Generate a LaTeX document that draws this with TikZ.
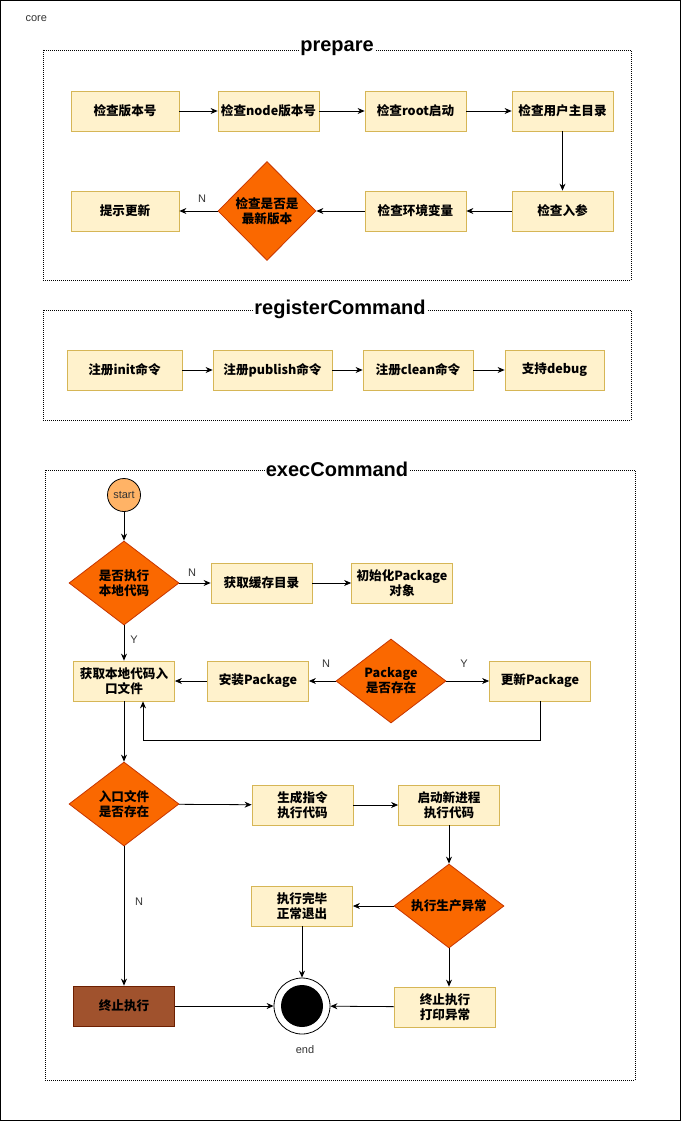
\documentclass[tikz,border=0pt]{standalone}
\usepackage{fontspec}
\setmainfont{Liberation Sans}
\newfontfamily\cjk{Noto Sans CJK SC}
\definecolor{boxfill}{HTML}{FFF2CC}
\definecolor{boxline}{HTML}{D6B656}
\definecolor{decfill}{HTML}{FA6800}
\definecolor{decline}{HTML}{C73500}
\definecolor{startfill}{HTML}{FFB366}
\definecolor{stopfill}{HTML}{A0522D}
\definecolor{stopline}{HTML}{6D1F00}
\usetikzlibrary{shapes.geometric, arrows.meta, positioning}

\begin{document}
\begin{tikzpicture}[x=1pt, y=-1pt,
    procbox/.style={draw=boxline, fill=boxfill, line width=0.8pt, minimum width=101pt, minimum height=40pt, inner sep=0.5pt, align=center, font=\cjk\bfseries\fontsize{12.6}{15}\selectfont},
    decide/.style={diamond, draw=decline, fill=decfill, line width=0.8pt, aspect=1.3, inner sep=0pt, minimum width=110pt, minimum height=84pt, align=center, font=\cjk\bfseries\fontsize{12.6}{15}\selectfont},
    grp/.style={draw, dash pattern=on 1pt off 1pt, line width=0.6pt},
    grptitle/.style={fill=white, inner sep=1pt, font=\bfseries\fontsize{20}{22}\selectfont},
    flow/.style={-{Stealth[length=7pt, width=6pt]}, line width=0.8pt},
    lbl/.style={font=\fontsize{11}{13}\selectfont, text=black!80}]
    \useasboundingbox (0,0) rectangle (681,1121);
    \draw[line width=0.8pt] (0.5,0.5) rectangle (680.5,1120.5);
    \node[lbl, anchor=west] (corelbl) at (22,19) {core};

    \draw[grp] (43,50) rectangle (631,280);
    \node[grptitle] (preparetitle) at (337,48) {prepare};
    \node[procbox, minimum width=108pt] (chkver) at (125,111) {检查版本号};
    \node[procbox] (chknode) at (268.5,111) {检查node版本号};
    \node[procbox] (chkroot) at (415.5,111) {检查root启动};
    \node[procbox] (chkhome) at (562.5,111) {检查用户主目录};
    \node[procbox] (chkargs) at (562.5,211) {检查入参};
    \node[procbox] (chkenv) at (415.5,211) {检查环境变量};
    \node[decide, aspect=1, minimum width=98pt, minimum height=99pt] (chklatest) at (267,211) {检查是否是\\最新版本};
    \node[procbox, minimum width=108pt] (tipupd) at (125,211) {提示更新};
    \node[lbl] (nlatest) at (202,199) {N};
    \draw[flow] (chkver) -- (chknode);
    \draw[flow] (chknode) -- (chkroot);
    \draw[flow] (chkroot) -- (chkhome);
    \draw[flow] (chkhome) -- (chkargs);
    \draw[flow] (chkargs) -- (chkenv);
    \draw[flow] (chkenv) -- (chklatest);
    \draw[flow] (chklatest) -- (tipupd);

    \draw[grp] (43,310) rectangle (631,420);
    \node[grptitle] (registertitle) at (340,309) {registerCommand};
    \node[procbox, minimum width=115pt] (reginit) at (124.5,370) {注册init命令};
    \node[procbox, minimum width=119pt] (regpub) at (272.5,370) {注册publish命令};
    \node[procbox, minimum width=110pt] (regclean) at (418,370) {注册clean命令};
    \node[procbox, minimum width=99pt] (regdebug) at (554.5,370) {支持debug};
    \draw[flow] (reginit) -- (regpub);
    \draw[flow] (regpub) -- (regclean);
    \draw[flow] (regclean) -- (regdebug);

    \draw[grp] (45,470) rectangle (635,1080);
    \node[grptitle] (exectitle) at (337,469) {execCommand};
    \node[circle, draw, line width=0.8pt, fill=startfill, minimum size=33pt, inner sep=0pt, lbl] (start) at (124,495) {start};
    \node[decide] (runlocal) at (124,583) {是否执行\\本地代码};
    \node[procbox] (getcache) at (261.5,583) {获取缓存目录};
    \node[procbox] (initpkg) at (402,583) {初始化Package\\对象};
    \node[procbox] (getentry) at (124,681) {获取本地代码入\\口文件};
    \node[procbox] (instpkg) at (258,681) {安装Package};
    \node[decide] (pkgexist) at (391,681) {Package\\是否存在};
    \node[procbox] (updpkg) at (540,681) {更新Package};
    \node[decide] (entryexist) at (124,804) {入口文件\\是否存在};
    \node[procbox] (gencmd) at (302.5,805) {生成指令\\执行代码};
    \node[procbox] (newproc) at (449,805) {启动新进程\\执行代码};
    \node[decide] (runerr) at (449,906) {执行生产异常};
    \node[procbox] (runok) at (302,906) {执行完毕\\正常退出};
    \node[procbox, fill=stopfill, draw=stopline] (stop) at (124,1006) {终止执行};
    \node[procbox] (stoperr) at (445,1007) {终止执行\\打印异常};
    \node[circle, draw, line width=0.8pt, fill=white, minimum size=56pt, inner sep=0pt] (endc) at (302,1006) {};
    \node[circle, fill=black, minimum size=42pt, inner sep=0pt] (enddot) at (endc.center) {};
    \node[lbl] (endlbl) at (305,1050) {end};
    \node[lbl] (nlocal) at (192,573) {N};
    \node[lbl] (ylocal) at (134,640) {Y};
    \node[lbl] (npkg) at (326,664) {N};
    \node[lbl] (ypkg) at (464,664) {Y};
    \node[lbl] (nentry) at (139,902) {N};
    \draw[flow] (start) -- (runlocal);
    \draw[flow] (runlocal) -- (getcache);
    \draw[flow] (getcache) -- (initpkg);
    \draw[flow] (runlocal) -- (getentry);
    \draw[flow] (pkgexist) -- (instpkg);
    \draw[flow] (instpkg) -- (getentry);
    \draw[flow] (pkgexist) -- (updpkg);
    \draw[flow] (updpkg.south) -- ++(0,39) -| ([xshift=19pt]getentry.south);
    \draw[flow] (getentry) -- (entryexist);
    \draw[flow] (entryexist) -- (gencmd);
    \draw[flow] (gencmd) -- (newproc);
    \draw[flow] (newproc) -- (runerr);
    \draw[flow] (runerr) -- (runok);
    \draw[flow] (runok) -- (endc);
    \draw[flow] (runerr.south) -- (runerr.south |- stoperr.north);
    \draw[flow] (stoperr) -- (endc);
    \draw[flow] (entryexist) -- (stop);
    \draw[flow] (stop) -- (endc);
\end{tikzpicture}
\end{document}
